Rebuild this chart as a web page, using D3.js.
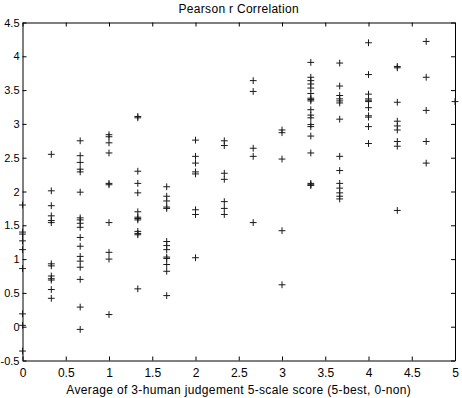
<!DOCTYPE html>
<html>
<head>
<meta charset="utf-8">
<script src="https://cdn.jsdelivr.net/npm/d3@7"></script>
<style>
  html, body { margin: 0; padding: 0; background: #fff; }
  text { font-family: "Liberation Sans", Arial, Helvetica, sans-serif; }
</style>
</head>
<body>
<script>
// x positions of the judgement-score groups (multiples of 1/3)
const scores = [0, 0.333, 0.667, 1, 1.333, 1.667, 2, 2.333, 2.667, 3, 3.333, 3.667, 4, 4.333, 4.667, 5];

// Pearson r values, one list per score group
const rAt0    = [1.80, 1.40, 1.37, 1.27, 1.14, 0.86, 0.19, 0.02, -0.36];
const rAt033  = [2.55, 2.01, 1.79, 1.64, 1.57, 1.54, 0.93, 0.90, 0.75, 0.71, 0.69, 0.55, 0.42];
const rAt067  = [2.75, 2.53, 2.43, 2.33, 2.29, 1.99, 1.61, 1.58, 1.53, 1.47, 1.32, 1.19, 1.04, 0.97, 0.88, 0.70, 0.29, -0.04];
const rAt1    = [2.84, 2.81, 2.72, 2.57, 2.12, 2.10, 1.54, 1.10, 1.00, 0.18];
const rAt133  = [3.11, 3.09, 2.30, 2.12, 1.98, 1.70, 1.62, 1.60, 1.58, 1.41, 1.38, 1.36, 0.56];
const rAt167  = [2.07, 1.93, 1.86, 1.77, 1.75, 1.26, 1.20, 1.14, 1.03, 1.01, 0.92, 0.82, 0.46];
const rAt2    = [2.76, 2.52, 2.42, 2.29, 2.26, 1.73, 1.66, 1.02];
const rAt233  = [2.75, 2.68, 2.27, 2.18, 1.85, 1.75, 1.66];
const rAt267  = [3.64, 3.48, 2.64, 2.52, 1.54];
const rAt3    = [2.91, 2.87, 2.48, 1.42, 0.62];
const rAt333  = [3.91, 3.69, 3.64, 3.59, 3.53, 3.45, 3.38, 3.36, 3.34, 3.21, 3.13, 3.09, 2.99, 2.96, 2.82, 2.57, 2.12, 2.10, 2.09];
const rAt367  = [3.90, 3.56, 3.42, 3.37, 3.34, 3.31, 3.07, 2.52, 2.31, 2.12, 2.05, 1.98, 1.93, 1.89];
const rAt4    = [4.20, 3.73, 3.44, 3.37, 3.35, 3.33, 3.24, 3.12, 3.10, 2.96, 2.71];
const rAt433  = [3.85, 3.83, 3.32, 3.04, 2.97, 2.91, 2.74, 2.67, 1.72];
const rAt467  = [4.22, 3.69, 3.20, 2.74, 2.42];
const rAt5    = [3.33];

const groups = [rAt0, rAt033, rAt067, rAt1, rAt133, rAt167, rAt2, rAt233, rAt267, rAt3, rAt333, rAt367, rAt4, rAt433, rAt467, rAt5];

const xTicks = [0, 0.5, 1, 1.5, 2, 2.5, 3, 3.5, 4, 4.5, 5];
const yTicks = [-0.5, 0, 0.5, 1, 1.5, 2, 2.5, 3, 3.5, 4, 4.5];

const titleText = "Pearson r Correlation";
const xLabelText = "Average of 3-human judgement 5-scale score (5-best, 0-non)";

const points = [];
scores.forEach((s, i) => groups[i].forEach(v => points.push({x: s, y: v})));

const W = 462, H = 398;
const svg = d3.select("body").append("svg").attr("width", W).attr("height", H);

const x = d3.scaleLinear().domain([0, 5]).range([22.5, 455]);
const y = d3.scaleLinear().domain([-0.5, 4.5]).range([360.5, 22.5]);

function styleAxis(g, size) {
  g.attr("font-family", null).attr("font-size", null);
  g.select(".domain").attr("stroke", "#000").attr("stroke-width", 1);
  g.selectAll(".tick line").attr("stroke", "#000").attr("stroke-width", 1);
  g.selectAll(".tick text").attr("fill", "#000").style("font-size", size + "px");
}

// bottom
svg.append("g").attr("transform", `translate(0,${y(-0.5)})`)
  .call(d3.axisBottom(x).tickValues(xTicks).tickSizeInner(-4).tickSizeOuter(0).tickPadding(7.7).tickFormat(d => String(d)))
  .call(g => styleAxis(g, 12));
// top
svg.append("g").attr("transform", `translate(0,${y(4.5)})`)
  .call(d3.axisTop(x).tickValues(xTicks).tickSizeInner(-4).tickSizeOuter(0).tickFormat(""))
  .call(g => styleAxis(g, 12));
// left
svg.append("g").attr("transform", `translate(${x(0)},0)`)
  .call(d3.axisLeft(y).tickValues(yTicks).tickSizeInner(-4).tickSizeOuter(0).tickPadding(3).tickFormat(d => String(d)))
  .call(g => styleAxis(g, 11));
// right
svg.append("g").attr("transform", `translate(${x(5)},0)`)
  .call(d3.axisRight(y).tickValues(yTicks).tickSizeInner(-4).tickSizeOuter(0).tickFormat(""))
  .call(g => styleAxis(g, 12));

// plus markers
const arm = 3.4;
svg.append("g").selectAll("path").data(points).join("path")
  .attr("transform", d => `translate(${x(d.x)},${y(d.y)})`)
  .attr("d", `M${-arm},0H${arm}M0,${-arm}V${arm}`)
  .attr("stroke", "#1a1a1a").attr("stroke-width", 1).attr("fill", "none");

svg.append("text").attr("x", (x(0) + x(5)) / 2).attr("y", 13)
  .attr("text-anchor", "middle").style("font-size", "12px").style("letter-spacing", "0.3px")
  .attr("fill", "#000").text(titleText);

svg.append("text").attr("x", (x(0) + x(5)) / 2).attr("y", 393.5)
  .attr("text-anchor", "middle").style("font-size", "12px").style("letter-spacing", "0.35px")
  .attr("fill", "#000").text(xLabelText);
</script>
</body>
</html>
